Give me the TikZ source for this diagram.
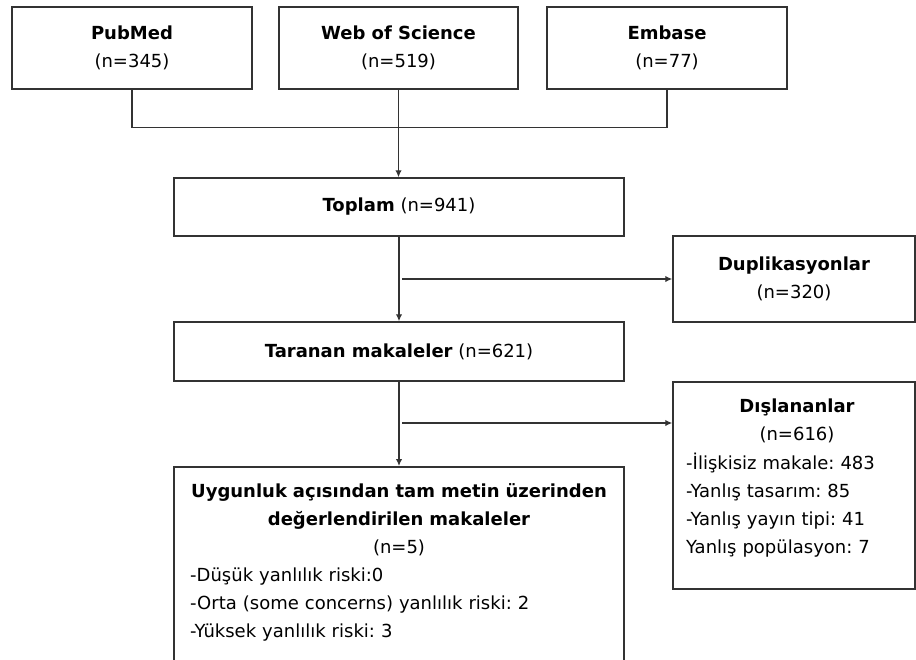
\documentclass[tikz,border=0pt]{standalone}
\usepackage{fontspec}
\setmainfont{DejaVu Sans}
\usetikzlibrary{arrows.meta}
\definecolor{boxline}{HTML}{333333}
\frenchspacing
\tikzset{
    box/.style={draw=boxline, line width=1.5pt, inner sep=0pt, align=center},
    flow/.style={draw=boxline, line width=1.4pt},
    txt/.style={inner sep=0pt, text width=#1},
}
\begin{document}
\begin{tikzpicture}[x=1pt, y=-1pt, >={Latex[length=7pt,width=6.5pt]}, font=\fontsize{18}{28}\selectfont]
            \useasboundingbox (0,0) rectangle (916,659);
            \clip (0,0) rectangle (916,659);
            \node[box, minimum width=240pt, minimum height=82pt] (pubmed) at (132,48) {\textbf{PubMed}\\(n=345)};
            \node[box, minimum width=239pt, minimum height=82pt] (wos) at (398.5,48) {\textbf{Web of Science}\\(n=519)};
            \node[box, minimum width=240pt, minimum height=82pt] (embase) at (667,48) {\textbf{Embase}\\(n=77)};
            \node[box, minimum width=450pt, minimum height=58pt] (toplam) at (399,207) {\textbf{Toplam} (n=941)};
            \node[box, minimum width=242pt, minimum height=86pt] (dupl) at (794,279) {\textbf{Duplikasyonlar}\\(n=320)};
            \node[box, minimum width=450pt, minimum height=59pt] (taranan) at (399,351.5) {\textbf{Taranan makaleler} (n=621)};
            \node[box, minimum width=242pt, minimum height=207pt] (disl) at (794,485.5) {};
            \node[box, minimum width=450pt, minimum height=260pt, anchor=north] (uygun) at (399,466) {};
            \node[txt=236pt, align=center, anchor=base] (dislhead) at (797,412) {{\bfseries Dışlananlar}\\(n=616)};
            \node[txt=224pt, align=left, anchor=base west] (dislitems) at (686,469) {-İlişkisiz makale: 483\\-Yanlış tasarım: 85\\-Yanlış yayın tipi: 41\\Yanlış popülasyon: 7};
            \node[txt=440pt, align=center, anchor=base] (uygunhead) at (399,497) {{\bfseries Uygunluk açısından tam metin üzerinden\\değerlendirilen makaleler}\\(n=5)};
            \node[txt=430pt, align=left, anchor=base west] (uygunitems) at (190,581) {-Düşük yanlılık riski:0\\-Orta (some concerns) yanlılık riski: 2\\-Yüksek yanlılık riski: 3};
            \draw[flow] (pubmed.south) -- ++(0,38) -| (embase.south);
            \draw[flow, ->] (wos.south) -- (wos.south |- toplam.north);
            \draw[flow, ->] (toplam.south) -- (taranan.north);
            \coordinate (duplfork) at (402,279);
            \draw[flow, ->] (duplfork) -- (dupl.west);
            \draw[flow, ->] (taranan.south) -- (uygun.north);
            \coordinate (dislfork) at (402,423);
            \draw[flow, ->] (dislfork) -- (dislfork -| disl.west);
        \end{tikzpicture}
\end{document}
